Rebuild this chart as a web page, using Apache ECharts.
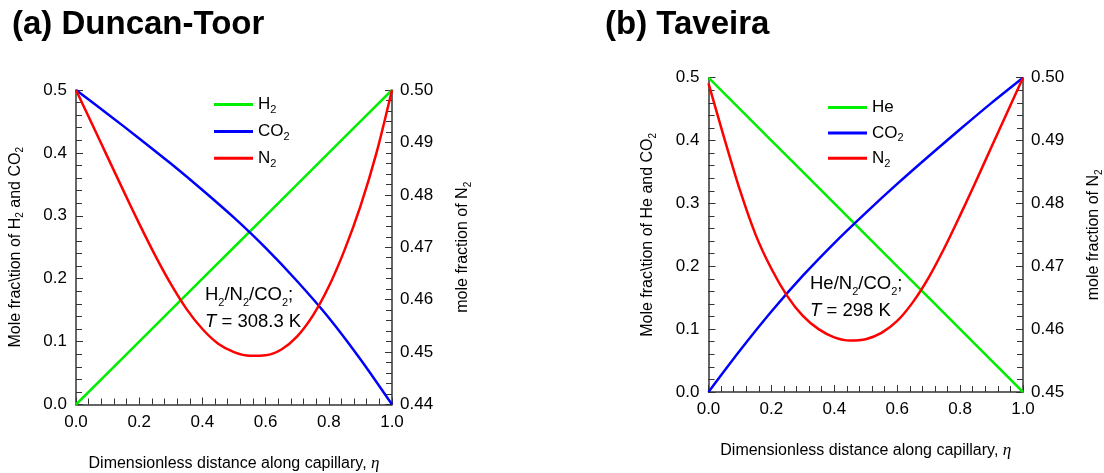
<!DOCTYPE html>
<html><head><meta charset="utf-8">
<script src="https://cdn.jsdelivr.net/npm/echarts@6/dist/echarts.min.js"></script>
<style>html,body{margin:0;padding:0;background:#fff}#c{width:1104px;height:473px}</style>
</head><body><div id="c"></div>
<script>
// ---------- data ----------
const etaCoarse = [0, 0.1, 0.2, 0.3, 0.4, 0.5, 0.6, 0.7, 0.8, 0.9, 1.0];
const etaFine = [0, 0.05, 0.10, 0.15, 0.20, 0.25, 0.30, 0.35, 0.40, 0.45, 0.50,
                 0.55, 0.60, 0.65, 0.70, 0.75, 0.80, 0.85, 0.90, 0.95, 1.00];

// (a) Duncan-Toor
const h2A  = [0, 0.05, 0.10, 0.15, 0.20, 0.25, 0.30, 0.35, 0.40, 0.45, 0.50];
const co2A = [0.500, 0.462, 0.423, 0.383, 0.341, 0.297, 0.249, 0.196, 0.138, 0.072, 0.000];
const n2A  = [0.5000, 0.4936, 0.4872, 0.4808, 0.4745, 0.4685, 0.4630, 0.4582, 0.4544, 0.4516, 0.4500,
              0.4493, 0.4494, 0.4505, 0.4530, 0.4570, 0.4625, 0.4695, 0.4778, 0.4878, 0.5000];

// (b) Taveira
const heB  = [0.50, 0.45, 0.40, 0.35, 0.30, 0.25, 0.20, 0.15, 0.10, 0.05, 0];
const co2B = [0.000, 0.066, 0.128, 0.185, 0.237, 0.285, 0.331, 0.375, 0.418, 0.460, 0.500];
const n2B  = [0.4991, 0.4904, 0.4821, 0.4750, 0.4696, 0.4653, 0.4621, 0.4600, 0.4587, 0.4582, 0.4584,
              0.4594, 0.4613, 0.4643, 0.4682, 0.4729, 0.4781, 0.4835, 0.4890, 0.4945, 0.5000];

const titles = ['(a) Duncan-Toor', '(b) Taveira'];

// ---------- styling ----------
const FONT = '"Liberation Sans", Arial, sans-serif';
const AX = '#333';
const GREEN = '#00ee00', BLUE = '#0000ff', RED = '#ff0000';

const pair = (xs, ys) => xs.map((x, i) => [x, ys[i]]);

const nameRich = {
  s: { fontFamily: FONT, fontSize: 10, lineHeight: 7, verticalAlign: 'bottom', color: '#000' },
  e: { fontFamily: '"Liberation Serif", "DejaVu Serif", serif', fontStyle: 'italic', fontSize: 17, lineHeight: 20, color: '#000' }
};
const nameStyle = { fontFamily: FONT, fontSize: 16, lineHeight: 20, color: '#000', rich: nameRich };

function xAxis(gi) {
  return {
    type: 'value', gridIndex: gi, min: 0, max: 1, interval: 0.2,
    name: 'Dimensionless distance along capillary, {e|η}',
    nameLocation: 'middle', nameGap: 49, nameTextStyle: nameStyle,
    axisLine: { show: true, onZero: false, lineStyle: { color: AX, width: 1.5 } },
    axisTick: { show: true, inside: true, length: 7, lineStyle: { color: AX } },
    minorTick: { show: true, splitNumber: 5, length: 6, lineStyle: { color: AX } },
    splitLine: { show: false },
    axisLabel: { margin: 9, fontFamily: FONT, fontSize: 17, color: '#000', formatter: v => v.toFixed(1) }
  };
}
function yLeft(gi, name) {
  return {
    type: 'value', gridIndex: gi, position: 'left', min: 0, max: 0.5, interval: 0.1,
    name, nameLocation: 'middle', nameGap: 50.5, nameTextStyle: nameStyle,
    axisLine: { show: true, onZero: false, lineStyle: { color: AX, width: 1.5 } },
    axisTick: { show: true, inside: true, length: 7, lineStyle: { color: AX } },
    minorTick: { show: true, splitNumber: 5, length: 6, lineStyle: { color: AX } },
    splitLine: { show: false },
    axisLabel: { margin: 9, fontFamily: FONT, fontSize: 17, color: '#000', formatter: v => v.toFixed(1) }
  };
}
function yRight(gi, min) {
  return {
    type: 'value', gridIndex: gi, position: 'right', min: min, max: 0.5, interval: 0.01,
    name: 'mole fraction of N{s|2}', nameLocation: 'middle', nameGap: 61, nameTextStyle: nameStyle,
    axisLine: { show: true, onZero: false, lineStyle: { color: AX, width: 1.5 } },
    axisTick: { show: true, inside: true, length: 7, lineStyle: { color: AX } },
    minorTick: { show: true, splitNumber: 5, length: 6, lineStyle: { color: AX } },
    splitLine: { show: false },
    axisLabel: { margin: 8, fontFamily: FONT, fontSize: 17, color: '#000', formatter: v => v.toFixed(2) }
  };
}
function line(name, xi, yi, data, color, smooth) {
  return {
    type: 'line', name, xAxisIndex: xi, yAxisIndex: yi, data,
    showSymbol: false, symbol: 'none', smooth: smooth, animation: false,
    lineStyle: { color, width: 2.5 }, itemStyle: { color }
  };
}

const legendText = {
  'H2': '{m|H}{s|2}', 'CO2': '{m|CO}{s|2}', 'N2': '{m|N}{s|2}',
  'He': '{m|He}{s| }', 'CO2 ': '{m|CO}{s|2}', 'N2 ': '{m|N}{s|2}'
};
function legend(left, top, data, gap) {
  return {
    orient: 'vertical', left, top, data, icon: 'rect',
    itemWidth: 39, itemHeight: 3, itemGap: gap, selectedMode: false,
    formatter: n => legendText[n],
    textStyle: {
      rich: {
        m: { fontFamily: FONT, fontSize: 17, lineHeight: 22, color: '#000' },
        s: { fontFamily: FONT, fontSize: 11, lineHeight: 8, verticalAlign: 'bottom', color: '#000' }
      }
    }
  };
}

const annRich = lh => ({
  m: { fontFamily: FONT, fontSize: 18.5, lineHeight: lh, color: '#000' },
  i: { fontFamily: FONT, fontSize: 18.5, lineHeight: lh, fontStyle: 'italic', color: '#000' },
  s: { fontFamily: FONT, fontSize: 11, lineHeight: 9, verticalAlign: 'bottom', color: '#000' }
});

const option = {
  backgroundColor: '#fff',
  animation: false,
  title: [
    { text: titles[0], left: 7, top: 3, textStyle: { fontFamily: FONT, fontSize: 33, fontWeight: 'bold', color: '#000' } },
    { text: titles[1], left: 600, top: 3, textStyle: { fontFamily: FONT, fontSize: 33, fontWeight: 'bold', color: '#000' } }
  ],
  grid: [
    { left: 76, top: 90, width: 316, height: 314.5, outerBoundsMode: 'none' },
    { left: 708.5, top: 77.7, width: 314.5, height: 314.3, outerBoundsMode: 'none' }
  ],
  xAxis: [xAxis(0), xAxis(1)],
  yAxis: [
    yLeft(0, 'Mole frac\\tion of H{s|2} and CO{s|2}'),
    yRight(0, 0.44),
    yLeft(1, 'Mole frac\\tion of He and CO{s|2}'),
    yRight(1, 0.45)
  ],
  legend: [
    legend(209, 91, ['H2', 'CO2', 'N2'], 7.4),
    legend(823, 94, ['He', 'CO2 ', 'N2 '], 5.9)
  ],
  graphic: [
    { type: 'text', left: 205, top: 285, silent: true,
      style: { text: '{m|H}{s|2}{m|/N}{s|2}{m|/CO}{s|2}{m|;}\n{i|T}{m| = 308.3 K}', rich: annRich(27) } },
    { type: 'text', left: 810, top: 274.2, silent: true,
      style: { text: '{m|He/N}{s|2}{m|/CO}{s|2}{m|;}\n{i|T}{m| = 298 K}', rich: annRich(27) } }
  ],
  series: [
    line('H2', 0, 0, pair(etaCoarse, h2A), GREEN, false),
    line('CO2', 0, 0, pair(etaCoarse, co2A), BLUE, 0.3),
    line('N2', 0, 1, pair(etaFine, n2A), RED, 0.3),
    line('He', 1, 2, pair(etaCoarse, heB), GREEN, false),
    line('CO2 ', 1, 2, pair(etaCoarse, co2B), BLUE, 0.3),
    line('N2 ', 1, 3, pair(etaFine, n2B), RED, 0.3)
  ]
};

const chart = echarts.init(document.getElementById('c'), null, { renderer: 'canvas' });
chart.setOption(option);
</script>
</body></html>
